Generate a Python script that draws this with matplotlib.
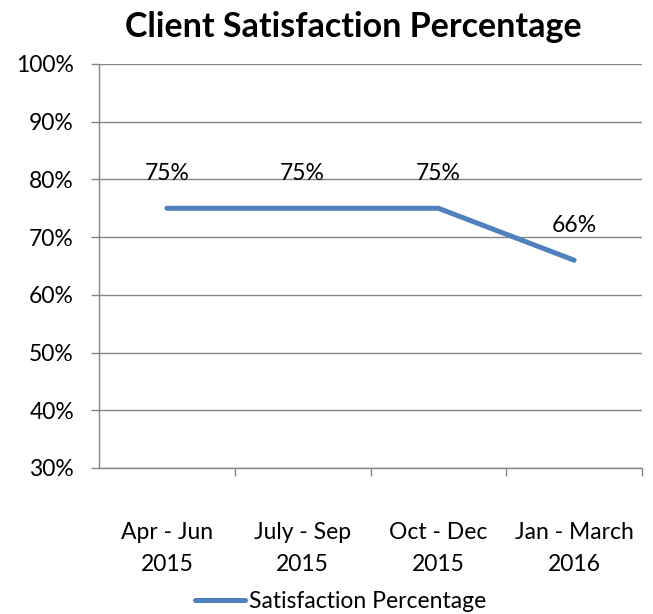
import matplotlib
matplotlib.use("Agg")
import matplotlib.pyplot as plt
from matplotlib.ticker import FixedLocator, FuncFormatter

categories = ["Apr - Jun\n2015", "July - Sep\n2015", "Oct - Dec\n2015", "Jan - March\n2016"]
satisfaction = [0.75, 0.75, 0.75, 0.66]
y_ticks = [0.3, 0.4, 0.5, 0.6, 0.7, 0.8, 0.9, 1.0]

LINE_COLOR = "#4F81BD"
GRID_COLOR = "#868686"
FONT = ["Lato", "DejaVu Sans"]
FS = 16.5

plt.rcParams["font.family"] = FONT

fig = plt.figure(figsize=(6.53, 6.14), dpi=100)
ax = fig.add_axes([0.1516, 0.2378, 0.8316, 0.658])

x = list(range(len(categories)))
ax.plot(x, satisfaction, color=LINE_COLOR, linewidth=3.6, solid_capstyle="round",
        label="Satisfaction Percentage")

for xi, v in zip(x, satisfaction):
    ax.annotate(f"{v:.0%}", (xi, v), xytext=(0, 35), textcoords="offset pixels",
                ha="center", va="center", fontsize=FS, color="black")

ax.set_xlim(-0.5, len(categories) - 0.5)
ax.set_ylim(0.3, 1.0)
ax.yaxis.set_major_locator(FixedLocator(y_ticks))
ax.yaxis.set_major_formatter(FuncFormatter(lambda v, _: f"{v:.0%}"))
ax.grid(axis="y", color=GRID_COLOR, linewidth=1.0)
ax.set_axisbelow(True)

ax.set_xticks(x)
ax.set_xticklabels(categories, fontsize=FS, linespacing=1.62)
ax.xaxis.set_minor_locator(FixedLocator([i + 0.5 for i in range(len(categories))]))
ax.tick_params(axis="x", which="major", length=0, pad=39)
ax.tick_params(axis="x", which="minor", length=6, color=GRID_COLOR, width=1)
ax.tick_params(axis="y", length=6, color=GRID_COLOR, width=1, labelsize=FS, pad=12)

for side in ["top", "right"]:
    ax.spines[side].set_visible(False)
for side in ["left", "bottom"]:
    ax.spines[side].set_color(GRID_COLOR)
    ax.spines[side].set_linewidth(1.0)

fig.text(0.541, 0.956, "Client Satisfaction Percentage", ha="center", va="center",
         fontsize=24.5, fontweight="bold")

fig.legend(loc="center", bbox_to_anchor=(0.521, 0.02), frameon=False, fontsize=FS,
           handlelength=2.2, handletextpad=0.15)

fig.savefig("out.png", dpi=100)
